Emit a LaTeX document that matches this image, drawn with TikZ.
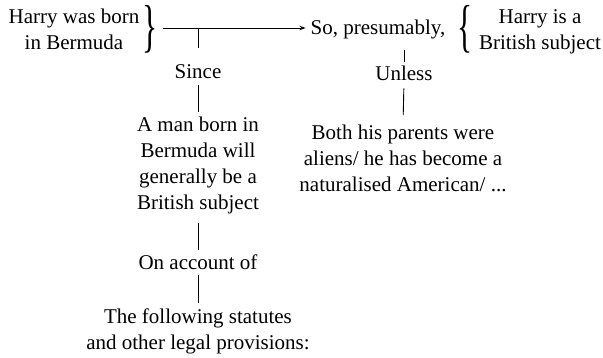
\documentclass[tikz,border=0pt]{standalone}
\usepackage{fontspec}
\setmainfont{Liberation Serif}
\usepackage{graphicx}
\usetikzlibrary{arrows.meta}
\tikzset{
  txt/.style={inner sep=0pt, align=center, font=\fontsize{21}{26}\selectfont},
  brc/.style={inner sep=0pt, font=\fontsize{21}{26}\selectfont},
  conn/.style={line width=0.9pt, draw=black},
  arr/.style={conn, -{Stealth[length=6pt,width=4.5pt]}}
}
\begin{document}
\begin{tikzpicture}[x=1pt,y=-1pt]
\useasboundingbox (0,0) rectangle (603,358);
% top row
\node[txt, anchor=north] (data) at (74,9) {Harry was born\\in Bermuda};
\node[brc] (braceL) at (150.5,29.5) {\scalebox{1.5}[2.75]{\}}};
\node[txt, anchor=base] (so) at (378,35) {So, presumably,};
\node[brc] (braceR) at (465.5,29.5) {\scalebox{1.5}[2.75]{\{}};
\node[txt, anchor=north] (claim) at (540,9) {Harry is a\\British subject};
% left column
\node[txt, anchor=base] (since) at (198,79) {Since};
\node[txt, anchor=north] (warrant) at (198,117) {A man born in\\Bermuda will\\generally be a\\British subject};
\node[txt, anchor=base] (account) at (198,270) {On account of};
\node[txt, anchor=north] (backing) at (198,309) {The following statutes\\and other legal provisions:};
% right column
\node[txt, anchor=base] (unless) at (404,80.5) {Unless};
\node[txt, anchor=north] (rebuttal) at (403,125) {Both his parents were\\aliens/ he has become a\\naturalised American/ ...};
% connectors
\coordinate (j) at (since.north |- 0,28);
\draw[arr, shorten <=5pt, shorten >=5pt] (braceL.east |- j) -- (j -| so.west);
\draw[conn, shorten >=16.5pt] (j) -- (since.north);
\draw[conn, shorten <=6pt, shorten >=5pt] (since.south) -- (warrant.north);
\draw[conn, shorten <=9pt, shorten >=5.5pt] (warrant.south) -- (account.north);
\draw[conn, shorten <=5pt, shorten >=6pt] (account.south) -- (backing.north);
\draw[conn, shorten <=10.5pt, shorten >=4.2pt] (unless.north |- so.south) -- (unless.north);
\draw[conn, shorten <=7.5pt, shorten >=10pt] (unless.south) -- (rebuttal.north);
\end{tikzpicture}
\end{document}
